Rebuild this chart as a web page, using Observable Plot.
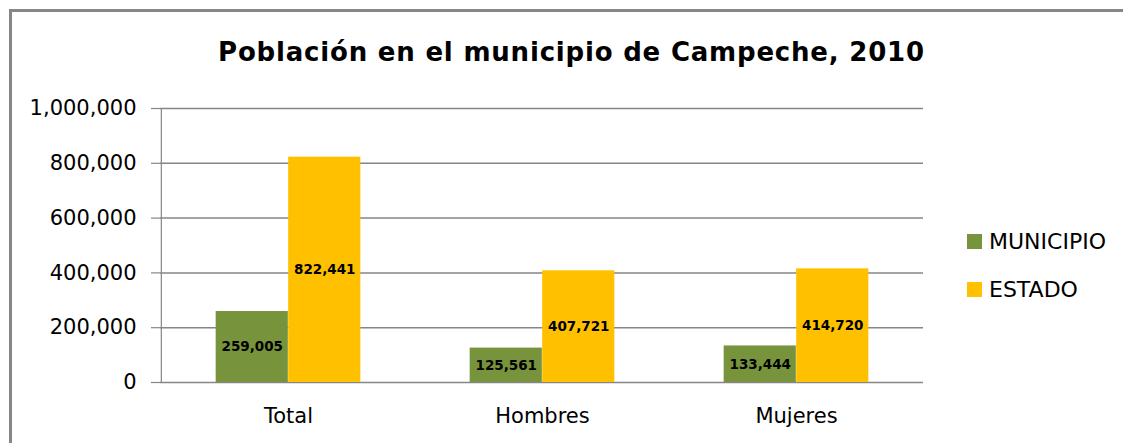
<!DOCTYPE html>
<html>
<head>
<meta charset="utf-8">
<script src="https://cdn.jsdelivr.net/npm/d3@7"></script>
<script src="https://cdn.jsdelivr.net/npm/@observablehq/plot@0.6"></script>
<style>
  html, body { margin: 0; padding: 0; background: #fff; overflow: hidden; }
  #wrap { position: relative; width: 1125px; height: 443px; overflow: hidden; font-family: "DejaVu Sans", sans-serif; }
  #lineTop { position: absolute; left: 9px; top: 9px; width: 1114px; height: 3px; background: #868686; }
  #lineLeft { position: absolute; left: 9px; top: 9px; width: 3px; height: 434px; background: #868686; }
  #title { position: absolute; left: 0; top: 39px; width: 1143px; text-align: center;
           font: bold 26px "DejaVu Sans", sans-serif; letter-spacing: 0.8px; line-height: 1; color: #000; }
  #chart { position: absolute; left: 0; top: 90px; }
  .leg { position: absolute; left: 967px; display: flex; align-items: center; height: 24px;
         font: 22px "DejaVu Sans", sans-serif; color: #000; }
  .leg span.sw { width: 15px; height: 15px; display: inline-block; margin-right: 7px; }
</style>
</head>
<body>
<div id="wrap">
  <div id="lineTop"></div>
  <div id="lineLeft"></div>
  <div id="title">Población en el municipio de Campeche, 2010</div>
  <div id="chart"></div>
  <div id="legend"></div>
</div>
<script>
const categories = ["Total", "Hombres", "Mujeres"];
const municipio = [259005, 125561, 133444];
const estado = [822441, 407721, 414720];
const seriesNames = ["MUNICIPIO", "ESTADO"];
const seriesColors = ["#77933C", "#FFC000"];
const yTicks = [0, 200000, 400000, 600000, 800000, 1000000];

const W = 940, H = 353, ML = 160, MR = 17, MT = 18, MB = 61;
const bw = (W - ML - MR) / categories.length;
const barW = 72.5;
const half = bw / 2;

const dataM = categories.map((c, i) => ({cat: c, value: municipio[i]}));
const dataE = categories.map((c, i) => ({cat: c, value: estado[i]}));
const fmt = d3.format(",");

const chart = Plot.plot({
  width: W, height: H,
  marginLeft: ML, marginRight: MR, marginTop: MT, marginBottom: MB,
  style: {fontFamily: "DejaVu Sans, sans-serif", fontSize: "21px", color: "#000", background: "transparent", overflow: "visible"},
  x: {domain: categories, padding: 0, axis: null, label: null},
  y: {domain: [0, 1000000], axis: null, label: null},
  marks: [
    Plot.ruleY(yTicks, {stroke: "#868686", strokeWidth: 1.5}),
    Plot.ruleX([categories[0]], {x: d => d, y1: 0, y2: 1000000, dx: -half, stroke: "#868686", strokeWidth: 1.2}),
    Plot.axisY({ticks: yTicks, tickFormat: fmt, tickSize: 9, tickPadding: 15, stroke: "#868686", fill: "#000", fontSize: 21, strokeWidth: 1.2, label: null}),
    Plot.axisX({tickSize: 0, tickPadding: 26, fill: "#000", fontSize: 21, label: null}),
    Plot.barY(dataM, {x: "cat", y: "value", fill: seriesColors[0], insetLeft: half - barW, insetRight: half}),
    Plot.barY(dataE, {x: "cat", y: "value", fill: seriesColors[1], insetLeft: half, insetRight: half - barW}),
    Plot.text(dataM, {x: "cat", y: d => d.value / 2, text: d => fmt(d.value), dx: -barW / 2, fill: "#000", fontWeight: "bold", fontSize: 13.5}),
    Plot.text(dataE, {x: "cat", y: d => d.value / 2, text: d => fmt(d.value), dx: barW / 2, fill: "#000", fontWeight: "bold", fontSize: 13.5})
  ]
});
document.getElementById("chart").appendChild(chart);

const legend = document.getElementById("legend");
const legTops = [229, 277];
seriesNames.forEach((n, i) => {
  const row = document.createElement("div");
  row.className = "leg";
  row.style.top = legTops[i] + "px";
  const sw = document.createElement("span");
  sw.className = "sw";
  sw.style.background = seriesColors[i];
  row.appendChild(sw);
  row.appendChild(document.createTextNode(n));
  legend.appendChild(row);
});
</script>
</body>
</html>
